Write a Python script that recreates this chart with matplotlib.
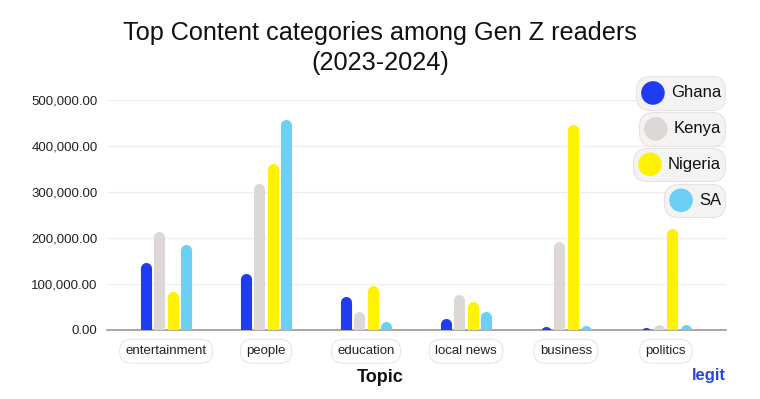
import matplotlib.pyplot as plt
import numpy as np
from matplotlib.offsetbox import AnnotationBbox, DrawingArea, HPacker, TextArea
from matplotlib.patches import Circle

plt.rcParams['font.family'] = ['Liberation Sans', 'DejaVu Sans']

topics = ["entertainment", "people", "education", "local news", "business", "politics"]
countries = ["Ghana", "Kenya", "Nigeria", "SA"]
colors = ["#1f3cf2", "#ddd8d6", "#fff200", "#6ccff6"]

ghana = [145000, 121000, 71000, 24000, 5000, 3000]
kenya = [212000, 316000, 39000, 76000, 190000, 10000]
nigeria = [82000, 361000, 95000, 61000, 446000, 218000]
sa = [184000, 457000, 17000, 39000, 7000, 10000]
values = [ghana, kenya, nigeria, sa]

yticks = [0, 100000, 200000, 300000, 400000, 500000]

fig = plt.figure(figsize=(7.6, 3.99), dpi=100)
ax = fig.add_axes([0.141, 0.173, 0.814, 0.576])

x = np.arange(len(topics))
step = 0.133
for i, (name, vals, c) in enumerate(zip(countries, values, colors)):
    xs = x + (i - 1.5) * step
    # round caps stick out by half the line width, so pull the top down a bit
    top = np.array(vals) - 10000
    ax.vlines(xs, -20000, top, colors=c, linewidth=8, capstyle='round', zorder=3)

ax.set_xlim(-0.59, 5.60)
ax.set_ylim(0, 500000)
ax.set_yticks(yticks)
ax.set_yticklabels([f"{v:,.2f}" for v in yticks], fontsize=9.5, color="#222222")
ax.set_xticks(x)
ax.set_xticklabels(topics, fontsize=9.5, color="#222222")
for lab in ax.get_xticklabels():
    lab.set_bbox(dict(boxstyle="round,pad=0.45,rounding_size=0.9", fc="white", ec="#e6e6e6", lw=0.8))
ax.tick_params(axis='both', length=0)
ax.tick_params(axis='x', pad=11)
ax.tick_params(axis='y', pad=7)
ax.grid(axis='y', color="#eeeeee", linewidth=0.9, zorder=0)
ax.set_axisbelow(True)
for s in ["top", "right", "left"]:
    ax.spines[s].set_visible(False)
ax.spines["bottom"].set_color("#999999")
ax.spines["bottom"].set_linewidth(1.2)
ax.spines["bottom"].set_zorder(2)

fig.text(0.5, 0.88, "Top Content categories among Gen Z readers\n(2023-2024)",
         ha='center', va='center', fontsize=18.2, linespacing=1.35, color="#111111")
fig.text(0.5, 0.055, "Topic", ha='center', va='center', fontsize=13, fontweight='bold', color="#111111")
fig.text(0.955, 0.06, "legit", ha='right', va='center', fontsize=12, fontweight='bold', color="#2b45e0")

leg_y = [0.767, 0.677, 0.588, 0.498]
for name, c, yy in zip(countries, colors, leg_y):
    da = DrawingArea(18, 18, 0, 0)
    da.add_artist(Circle((9, 9), 8.5, fc=c, ec='none'))
    ta = TextArea(name, textprops=dict(fontsize=12, color="#111111"))
    box = HPacker(children=[da, ta], align="center", pad=0, sep=4)
    ab = AnnotationBbox(box, (0.949, yy), xycoords='figure fraction', box_alignment=(1, 0.5),
                        frameon=True, pad=0.3,
                        bboxprops=dict(boxstyle="round,pad=0.3,rounding_size=1.0", fc="#f3f3f3", ec="#e4e4e4", lw=0.8))
    fig.add_artist(ab)

fig.savefig("out.png", dpi=100)
